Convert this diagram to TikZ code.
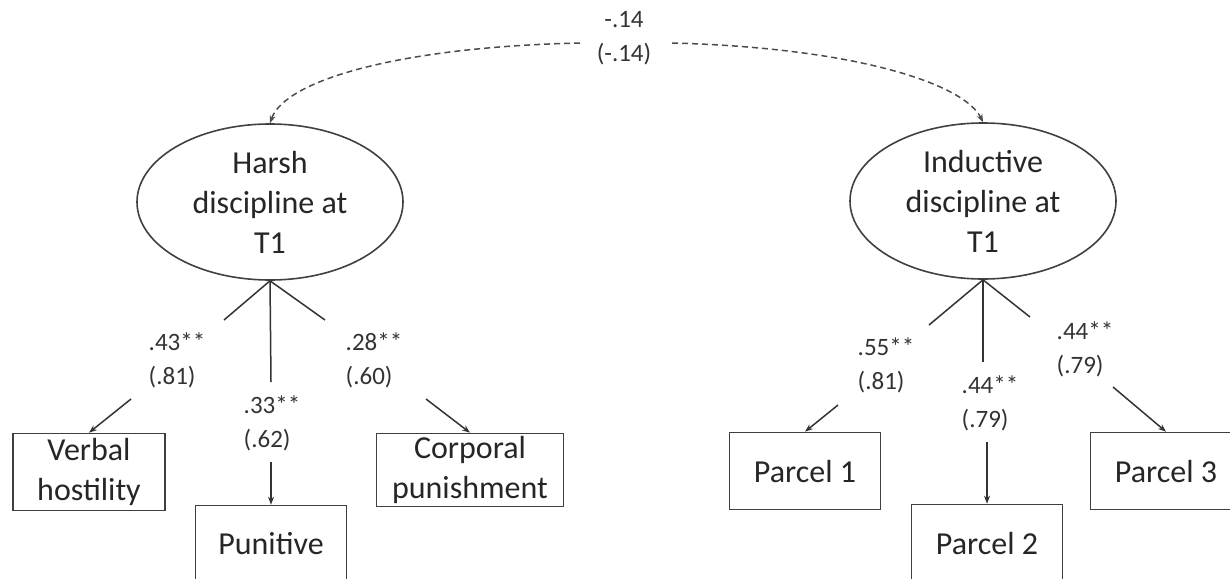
\documentclass[tikz,border=0pt]{standalone}
\usepackage{fontspec}
\setmainfont{Carlito}
\usepackage{tikz}
\usetikzlibrary{shapes.geometric,arrows.meta}

\begin{document}
\begin{tikzpicture}[x=0.5pt,y=0.5pt,yscale=-1,xscale=1,
  latent/.style={draw=black!75,line width=0.8pt,ellipse,minimum width=133pt,minimum height=78pt,inner sep=0pt,align=center,font=\fontsize{16}{20}\selectfont,text=black!85},
  obs/.style={draw=black!75,line width=0.8pt,rectangle,minimum height=38.5pt,inner sep=0pt,align=center,font=\fontsize{16}{20}\selectfont,text=black!85},
  est/.style={inner sep=0pt,align=left,font=\fontsize{12.5}{17}\selectfont,text=black!80},
  load/.style={draw=black!80,line width=0.75pt},
  loadarr/.style={load,-{Stealth[length=4pt,width=3pt]}},
  cov/.style={draw=black!70,line width=0.75pt,dash pattern=on 3pt off 2pt,-{Stealth[length=4pt,width=3pt]}}
]
\clip (0,0) rectangle (1230,578);

% latent factors
\node (harsh) at (270,202) [latent] {Harsh\\discipline at\\T1};
\node (ind) at (983,201) [latent] {Inductive\\discipline at\\T1};

% indicators
\node (verbal) at (89,472) [obs,minimum width=76pt] {Verbal\\hostility};
\node (punit) at (271,544) [obs,minimum width=75.5pt] {Punitive};
\node (corp) at (470,470) [obs,minimum width=93.5pt,minimum height=36.5pt] {Corporal\\punishment};
\node (par1) at (805,471) [obs,minimum width=75.5pt] {Parcel 1};
\node (par2) at (987,543) [obs,minimum width=75.5pt] {Parcel 2};
\node (par3) at (1166,471) [obs,minimum width=75.5pt] {Parcel 3};

% covariance
\node (r) at (624,38) [inner sep=0pt,align=center,font=\fontsize{12.5}{17}\selectfont,text=black!80] {-.14\\(-.14)};
\coordinate (rl) at (580,43);
\coordinate (rr) at (672,43);
\draw [cov] (rl) .. controls (400,47) and (285,80) .. (harsh.north);
\draw [cov] (rr) .. controls (860,48) and (965,85) .. (ind.north);

% loadings, harsh
\node (l1) at (177,360) [est] {.43**\\(.81)};
\node (l2) at (272,423) [est] {.33**\\(.62)};
\node (l3) at (374,360) [est] {.28**\\(.60)};
\coordinate (a1) at (224,320);
\coordinate (b1) at (131,399);
\coordinate (a2) at (271,382);
\coordinate (b2) at (271,462);
\coordinate (a3) at (325,320);
\coordinate (b3) at (426,399);
\draw [load] (harsh.south) -- (a1);
\draw [loadarr] (b1) -- (verbal.north);
\draw [load] (harsh.south) -- (a2);
\draw [loadarr] (b2) -- (punit.north);
\draw [load] (harsh.south) -- (a3);
\draw [loadarr] (b3) -- (corp.north);

% loadings, inductive
\node (l4) at (886,365) [est] {.55**\\(.81)};
\node (l5) at (990,403) [est] {.44**\\(.79)};
\node (l6) at (1085,349) [est] {.44**\\(.79)};
\coordinate (a4) at (929,325);
\coordinate (b4) at (838,405);
\coordinate (a5) at (983,362);
\coordinate (b5) at (987,442);
\coordinate (a6) at (1030,317);
\coordinate (b6) at (1113,387);
\draw [load] (ind.south) -- (a4);
\draw [loadarr] (b4) -- (par1.north);
\draw [load] (ind.south) -- (a5);
\draw [loadarr] (b5) -- (par2.north);
\draw [load] (ind.south) -- (a6);
\draw [loadarr] (b6) -- (par3.north);

\end{tikzpicture}
\end{document}
